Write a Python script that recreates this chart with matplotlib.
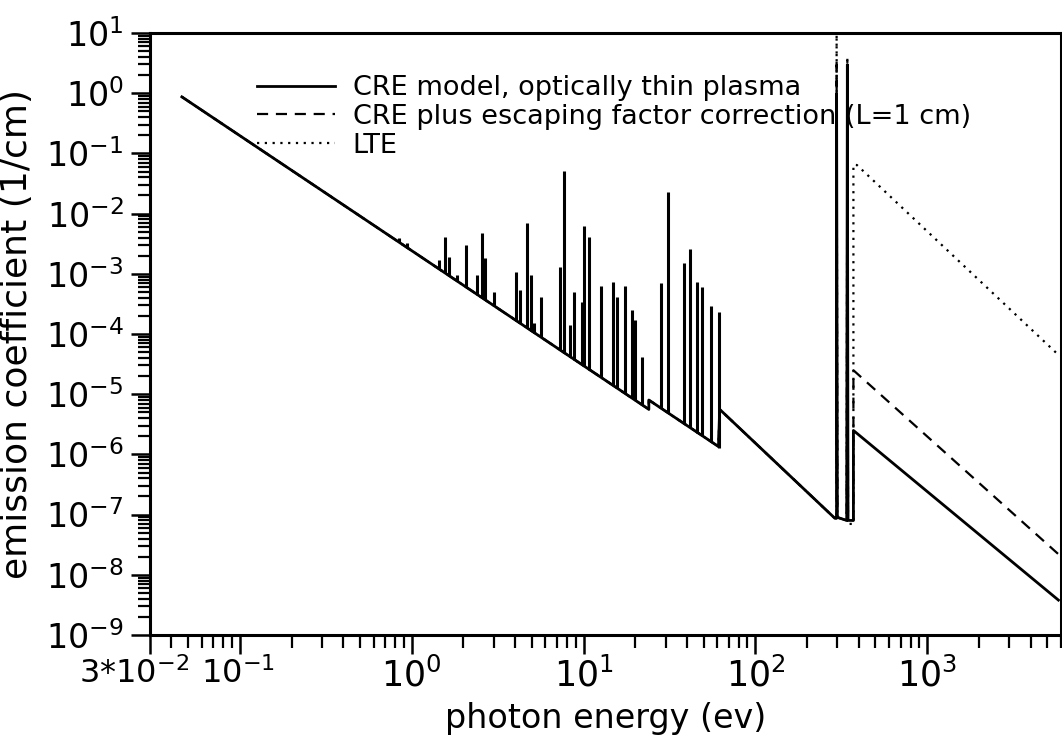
import matplotlib.pyplot as plt
import matplotlib.ticker as mticker
import matplotlib.transforms as mtransforms
import numpy as np

plt.rcParams['font.family'] = ['DejaVu Sans']
plt.rcParams['mathtext.fontset'] = 'dejavusans'

# continuum shared by all three models below the 300 eV group
cont_E = [0.046, 24, 24, 61, 62, 290]
cont_j = [0.87, 5.6e-6, 8.0e-6, 1.35e-6, 5.6e-6, 8.7e-8]

# K-shell group and high energy tail, one list per model
cre_E = [297, 297, 300, 340, 343, 346, 372, 372, 5800]
cre_j = [8.7e-8, 1.0, 9.0e-8, 8.0e-8, 3.0, 8.0e-8, 8.0e-8, 2.5e-6, 3.8e-9]

esc_E = [297, 297, 300, 340, 343, 346, 372, 372, 5800]
esc_j = [8.7e-8, 3.0, 9.0e-8, 8.0e-8, 2.0, 8.0e-8, 8.0e-8, 2.5e-5, 2.2e-8]

lte_E = [297, 297, 300, 340, 343, 346, 372, 372, 390, 5800]
lte_j = [8.7e-8, 9.5, 9.0e-8, 8.0e-8, 4.0, 7.0e-8, 7.0e-8, 0.065, 0.064, 4.5e-5]

# emission lines between 1 and 70 eV (energy, base, peak)
line_E = [0.84, 0.935, 1.44, 1.56, 1.65, 1.83, 2.07, 2.40, 2.57, 2.67,
          3.02, 4.06, 4.28, 4.71, 4.97, 5.17, 5.68, 7.33, 7.74, 8.39,
          8.86, 9.86, 10.1, 10.8, 12.6, 14.8, 15.6, 17.4, 19.1, 19.9,
          21.8, 28.2, 31.0, 38.5, 41.7, 45.8, 49.0, 55.3, 61.5]
line_base = [3.4e-3, 2.7e-3, 1.2e-3, 1.03e-3, 9.3e-4, 7.6e-4, 6.0e-4, 4.5e-4, 4.0e-4, 3.7e-4,
             2.9e-4, 1.67e-4, 1.5e-4, 1.25e-4, 1.13e-4, 1.05e-4, 8.8e-5, 5.4e-5, 4.8e-5, 4.1e-5,
             3.7e-5, 3.0e-5, 2.9e-5, 2.5e-5, 1.9e-5, 1.4e-5, 1.27e-5, 1.03e-5, 8.6e-6, 8.0e-6,
             6.7e-6, 5.8e-6, 4.9e-6, 3.2e-6, 2.8e-6, 2.3e-6, 2.0e-6, 1.6e-6, 1.3e-6]
line_peak = [3.9e-3, 3.2e-3, 1.7e-3, 4.1e-3, 1.9e-3, 9.5e-4, 3.0e-3, 9.5e-4, 4.8e-3, 1.8e-3,
             5.0e-4, 1.07e-3, 5.4e-4, 6.9e-3, 9.5e-4, 1.5e-4, 4.1e-4, 1.3e-3, 5.2e-2, 1.4e-4,
             5.0e-4, 3.4e-4, 6.2e-3, 4.1e-3, 6.3e-4, 7.3e-4, 4.1e-4, 6.3e-4, 2.5e-4, 1.7e-4,
             4.1e-5, 7.0e-4, 2.3e-2, 1.5e-3, 2.6e-3, 7.3e-4, 6.0e-4, 2.9e-4, 2.3e-4]

labels = ['CRE model, optically thin plasma',
          'CRE plus escaping factor correction (L=1 cm)',
          'LTE']

fig = plt.figure(figsize=(10.62, 7.52), dpi=100)
ax = fig.add_axes([0.1412, 0.1556, 0.8578, 0.8005])

ax.plot(cont_E + lte_E, cont_j + lte_j, color='black', lw=1.6, ls=(0, (1, 2.5)), label=labels[2])
ax.plot(cont_E + esc_E, cont_j + esc_j, color='black', lw=1.6, ls=(0, (5, 3.5)), label=labels[1])
ax.plot(cont_E + cre_E, cont_j + cre_j, color='black', lw=2.0, label=labels[0])
ax.vlines(line_E, line_base, line_peak, color='black', lw=2.2)

ax.set_xscale('log')
ax.set_yscale('log')
ax.set_xlim(0.03, 6000)
ax.set_ylim(1e-9, 10)

ax.set_xticks([0.03, 0.1, 1, 10, 100, 1000])
ax.set_xticklabels([r'$3{*}10^{-2}$', r'$10^{-1}$', r'$10^{0}$', r'$10^{1}$', r'$10^{2}$', r'$10^{3}$'])
ax.xaxis.set_minor_locator(mticker.LogLocator(base=10, subs=np.arange(2, 10), numticks=50))
ax.xaxis.set_minor_formatter(mticker.NullFormatter())

yt = [10.0 ** k for k in range(-9, 2)]
ax.set_yticks(yt)
ax.set_yticklabels([r'$10^{%d}$' % k for k in range(-9, 2)])
ax.yaxis.set_minor_locator(mticker.LogLocator(base=10, subs=np.arange(2, 10), numticks=50))
ax.yaxis.set_minor_formatter(mticker.NullFormatter())

ax.tick_params(which='major', direction='out', length=14, width=1.8, labelsize=24, pad=5)
ax.tick_params(axis='x', which='major', labelsize=25, pad=2)
ax.tick_params(which='minor', direction='out', length=9, width=1.6)
for s in ax.spines.values():
    s.set_linewidth(2.2)

# shift the first two x labels apart like the original
xl = ax.get_xticklabels()
xl[0].set_transform(xl[0].get_transform() + mtransforms.ScaledTranslation(-16 / 100, 0, fig.dpi_scale_trans))
xl[1].set_transform(xl[1].get_transform() + mtransforms.ScaledTranslation(-2 / 100, 0, fig.dpi_scale_trans))
xl[0].set_fontsize(23)
xl[1].set_fontsize(23)

ax.set_xlabel('photon energy (ev)', fontsize=24, labelpad=6)
ax.set_ylabel('emission coefficient (1/cm)', fontsize=26)
ax.yaxis.set_label_coords(-0.127, 0.5)

h, l = ax.get_legend_handles_labels()
leg = ax.legend(h[::-1], l[::-1], loc='upper left', bbox_to_anchor=(0.117, 0.93),
                frameon=False, fontsize=19.5, handlelength=2.9, handletextpad=0.65,
                labelspacing=0.1, borderpad=0, borderaxespad=0)
leg.set_zorder(1)

fig.savefig('out.png', dpi=100)
